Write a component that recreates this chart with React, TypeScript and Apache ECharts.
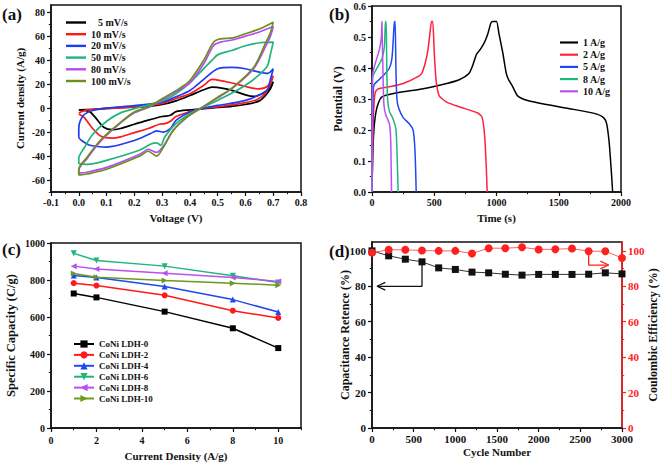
import React, { useEffect, useRef } from "react";
import * as echarts from "echarts";

const FONT = '"Liberation Serif", "Times New Roman", serif';
const INK = "#111111";

// ---------- (a) CV curves ----------
const cvNames = ["5 mV/s", "10 mV/s", "20 mV/s", "50 mV/s", "80 mV/s", "100 mV/s"];
const cvColors = ["#000000", "#ff1a1a", "#1f3cf2", "#20b57a", "#b64cf2", "#6b8e1e"];
const cv5 = [[0,-1.5],[0.05,-1],[0.1,-0.3],[0.15,0.3],[0.2,0.8],[0.25,1.5],[0.3,3],[0.35,6],[0.4,10.5],[0.45,15.3],[0.48,17.5],[0.52,16.5],[0.56,14.2],[0.6,11],[0.63,9.7],[0.66,12],[0.68,15],[0.7,22],[0.69,16],[0.67,10],[0.65,6],[0.6,3],[0.55,1.5],[0.5,0.5],[0.45,-0.5],[0.4,-1.5],[0.35,-3],[0.33,-6],[0.3,-7],[0.25,-10],[0.2,-13.5],[0.15,-17],[0.12,-18],[0.09,-16],[0.06,-8],[0.04,-3],[0.02,-2],[0,-1.5]];
const cv10 = [[0,-4],[0.03,-1.5],[0.1,-0.5],[0.2,1],[0.3,4],[0.35,8],[0.4,12],[0.45,19],[0.48,24],[0.52,22.5],[0.56,20.5],[0.6,18],[0.65,16],[0.68,18.5],[0.7,27],[0.69,20],[0.67,12],[0.64,7],[0.6,4.5],[0.5,1],[0.44,-0.5],[0.4,-3],[0.35,-7],[0.33,-11],[0.31,-13],[0.29,-13.5],[0.25,-17],[0.2,-20.5],[0.15,-24],[0.12,-25],[0.08,-23.5],[0.05,-17],[0.02,-8],[0,-5]];
const cv20 = [[0,-24.7],[0,-17],[0.017,-6],[0.05,-2],[0.1,0],[0.2,2],[0.3,5],[0.35,9.5],[0.4,14.7],[0.45,24],[0.5,32.8],[0.55,34],[0.6,32.8],[0.65,30],[0.68,29],[0.7,32.8],[0.69,24],[0.676,14.7],[0.6,6.4],[0.5,2.2],[0.44,-0.5],[0.4,-3.3],[0.35,-10.3],[0.33,-17],[0.305,-20],[0.28,-19],[0.257,-21.4],[0.2,-27],[0.1,-32.5],[0.04,-31],[0.01,-27],[0,-24.7]];
const cv50 = [[0,-46.4],[0,-42],[0.02,-33],[0.05,-22],[0.1,-11],[0.15,-4],[0.2,-0.5],[0.25,2.5],[0.3,6],[0.35,12],[0.4,21],[0.45,33],[0.48,40],[0.5,44.4],[0.55,48],[0.6,52],[0.65,54.5],[0.7,55],[0.69,45],[0.676,34],[0.6,19],[0.5,6.4],[0.44,0],[0.4,-4.7],[0.35,-13],[0.31,-24],[0.295,-31],[0.28,-29],[0.26,-30],[0.22,-35],[0.1,-43.6],[0.03,-47],[0,-46.4]];
const cv80 = [[0,-54],[0,-52],[0.03,-42],[0.077,-28],[0.137,-15],[0.2,-4],[0.255,1],[0.3,7],[0.36,15],[0.4,21],[0.45,37],[0.485,52],[0.51,55],[0.556,57],[0.6,60],[0.65,63.5],[0.7,68],[0.69,60],[0.676,53],[0.63,33],[0.556,17],[0.5,8.5],[0.44,0],[0.39,-7.5],[0.34,-18.6],[0.305,-31.5],[0.28,-37],[0.25,-34.5],[0.22,-38.5],[0.1,-49.5],[0.03,-53.5],[0,-54]];
const cv100 = [[0,-56],[0,-51],[0.03,-41],[0.077,-27],[0.137,-14.4],[0.2,-3.3],[0.255,1.4],[0.3,7.8],[0.36,16],[0.4,23],[0.45,40],[0.485,55],[0.51,57.8],[0.556,58.6],[0.6,62],[0.65,66],[0.7,71.7],[0.69,63],[0.676,56],[0.63,34],[0.556,17.5],[0.5,9],[0.44,0],[0.39,-7.5],[0.34,-18.6],[0.305,-32.5],[0.28,-40],[0.25,-36],[0.22,-40],[0.1,-51],[0.03,-55],[0,-56]];
const cvData = [cv5, cv10, cv20, cv50, cv80, cv100];
const aXTicks = [-0.1, 0, 0.1, 0.2, 0.3, 0.4, 0.5, 0.6, 0.7, 0.8];
const aXMinor = [-0.05, 0.05, 0.15, 0.25, 0.35, 0.45, 0.55, 0.65, 0.75];
const aYTicks = [-60, -40, -20, 0, 20, 40, 60, 80];
const aYMinor = [-70, -50, -30, -10, 10, 30, 50, 70];

// ---------- (b) GCD curves ----------
const gcdNames = ["1 A/g", "2 A/g", "5 A/g", "8 A/g", "10 A/g"];
const gcdColors = ["#000000", "#ff2040", "#1f48f2", "#20b57a", "#bb50f0"];
const g1 = [[0,0],[5,0.1],[12,0.18],[25,0.24],[45,0.28],[80,0.307],[200,0.32],[400,0.332],[600,0.35],[700,0.362],[780,0.383],[810,0.41],[840,0.445],[870,0.46],[900,0.48],[930,0.51],[955,0.545],[970,0.55],[1000,0.55],[1020,0.51],[1050,0.45],[1080,0.38],[1100,0.36],[1130,0.34],[1170,0.31],[1250,0.295],[1400,0.282],[1600,0.268],[1800,0.252],[1860,0.24],[1885,0.22],[1905,0.16],[1920,0.08],[1933,0]];
const g2 = [[0,0],[5,0.12],[12,0.25],[25,0.32],[45,0.332],[150,0.34],[250,0.35],[350,0.368],[400,0.383],[430,0.42],[450,0.46],[465,0.51],[478,0.55],[488,0.55],[500,0.45],[515,0.36],[540,0.31],[600,0.29],[700,0.275],[850,0.255],[885,0.24],[905,0.18],[918,0.08],[925,0]];
const g5 = [[0,0],[3,0.15],[8,0.3],[15,0.345],[50,0.36],[100,0.38],[140,0.4],[160,0.43],[172,0.5],[180,0.55],[186,0.55],[192,0.4],[200,0.3],[215,0.27],[250,0.24],[300,0.22],[330,0.2],[343,0.15],[350,0.08],[355,0]];
const g8 = [[0,0],[2,0.2],[5,0.37],[40,0.4],[80,0.43],[100,0.47],[108,0.55],[114,0.55],[119,0.4],[125,0.3],[140,0.26],[170,0.235],[193,0.2],[203,0.1],[210,0]];
const g10 = [[0,0],[2,0.3],[5,0.38],[30,0.42],[60,0.46],[75,0.5],[80,0.55],[85,0.55],[90,0.35],[96,0.28],[110,0.25],[140,0.22],[150,0.17],[154,0.08],[157,0]];
const gcdData = [g1, g2, g5, g8, g10];
const bXTicks = [0, 500, 1000, 1500, 2000];
const bXMinor = [250, 750, 1250, 1750];
const bYTicks = [0, 0.1, 0.2, 0.3, 0.4, 0.5, 0.6];
const bYMinor = [0.05, 0.15, 0.25, 0.35, 0.45, 0.55];

// ---------- (c) rate capability ----------
const currentDensity = [1, 2, 5, 8, 10];
const capNames = ["CoNi LDH-0", "CoNi LDH-2", "CoNi LDH-4", "CoNi LDH-6", "CoNi LDH-8", "CoNi LDH-10"];
const capColors = ["#000000", "#ff1a1a", "#1f48f2", "#20b57a", "#bb50f0", "#6b9a1e"];
const capSymbols = ["rect", "circle", "triangle", "triangle", "triangle", "triangle"];
const capRotate = [0, 0, 0, 180, 90, -90];
const cap0 = [727, 706, 629, 539, 432];
const cap2 = [783, 770, 717, 634, 595];
const cap4 = [824, 814, 765, 694, 627];
const cap6 = [944, 905, 875, 823, 787];
const cap8 = [875, 860, 837, 814, 792];
const cap10 = [835, 815, 797, 783, 772];
const capData = [cap0, cap2, cap4, cap6, cap8, cap10];
const cXTicks = [0, 2, 4, 6, 8, 10];
const cXMinor = [1, 3, 5, 7, 9, 11];
const cYTicks = [0, 200, 400, 600, 800, 1000];
const cYMinor = [100, 300, 500, 700, 900];

// ---------- (d) cycling ----------
const cycles = [0, 200, 400, 600, 800, 1000, 1200, 1400, 1600, 1800, 2000, 2200, 2400, 2600, 2800, 3000];
const retention = [100, 97.2, 95.3, 93.8, 90.4, 89.5, 88, 87.6, 86.8, 86.3, 86.7, 86.7, 86.7, 86.8, 87.6, 87];
const coulombic = [99, 100.6, 100.6, 100.2, 100, 100, 98.5, 101.5, 101.5, 102, 100.8, 100.9, 101.3, 99.8, 99.8, 96];
const arrowLeftPath = [[600, 93.8], [600, 80], [60, 80]];
const arrowLeftHead = [[160, 82.2], [60, 80], [160, 77.8]];
const arrowRightPath = [[2600, 100], [2600, 92], [2840, 92]];
const arrowRightHead = [[2740, 94.2], [2840, 92], [2740, 89.8]];
const dXTicks = [0, 500, 1000, 1500, 2000, 2500, 3000];
const dXMinor = [250, 750, 1250, 1750, 2250, 2750];
const dYTicks = [0, 20, 40, 60, 80, 100];
const dYMinor = [10, 30, 50, 70, 90];

type AxisOpt = {
  grid: number;
  position: string;
  min: number;
  max: number;
  ticks: number[];
  minor: number[];
  fmt?: (v: number) => string;
  name?: string;
  nameGap?: number;
  nameSize?: number;
  labelSize?: number;
  margin?: number;
  color?: string;
  vertical?: boolean;
};

function makeAxes(o: AxisOpt) {
  const color = o.color || INK;
  const main: any = {
    type: "value",
    gridIndex: o.grid,
    position: o.position,
    min: o.min,
    max: o.max,
    name: o.name || "",
    nameLocation: "middle",
    nameGap: o.nameGap,
    nameRotate: o.vertical ? 90 : 0,
    nameMoveOverlap: false,
    nameTextStyle: { fontFamily: FONT, fontWeight: "bold", fontSize: o.nameSize || 11, color: INK },
    axisLine: { show: true, onZero: false, lineStyle: { color, width: 1.5 } },
    axisTick: { show: true, inside: false, length: 4, customValues: o.ticks, lineStyle: { color, width: 1.2 } },
    minorTick: { show: false },
    axisLabel: {
      show: true,
      customValues: o.ticks,
      margin: o.margin ?? 6,
      formatter: o.fmt || ((v: number) => String(v)),
      fontFamily: FONT,
      fontWeight: "bold",
      fontSize: o.labelSize || 10,
      color,
    },
    splitLine: { show: false },
  };
  const minor: any = {
    type: "value",
    gridIndex: o.grid,
    position: o.position,
    min: o.min,
    max: o.max,
    axisLine: { show: false, onZero: false },
    axisTick: { show: true, inside: false, length: 2.2, customValues: o.minor, lineStyle: { color, width: 1 } },
    axisLabel: { show: false },
    splitLine: { show: false },
    minorTick: { show: false },
  };
  return [main, minor];
}

const fix1 = (v: number) => v.toFixed(1);
const LINE_ICON = "path://M0,0 H20 V2.4 H0 Z";

export default function App() {
  const ref = useRef<HTMLDivElement>(null);
  useEffect(() => {
    document.body.style.margin = "0";
    if (!ref.current) return;
    const chart = echarts.init(ref.current, undefined, { renderer: "svg" });

    const xAxis = [
      ...makeAxes({ grid: 0, position: "bottom", min: -0.1, max: 0.8, ticks: aXTicks, minor: aXMinor, fmt: fix1, name: "Voltage (V)", nameGap: 20, margin: 5 }),
      ...makeAxes({ grid: 1, position: "bottom", min: 0, max: 2000, ticks: bXTicks, minor: bXMinor, name: "Time (s)", nameGap: 20, margin: 5 }),
      ...makeAxes({ grid: 2, position: "bottom", min: 0, max: 11, ticks: cXTicks, minor: cXMinor, name: "Current Density (A/g)", nameGap: 22, margin: 7 }),
      ...makeAxes({ grid: 3, position: "bottom", min: 0, max: 3000, ticks: dXTicks, minor: dXMinor, name: "Cycle Number", nameGap: 18, margin: 5, labelSize: 11 }),
    ];
    const yAxis = [
      ...makeAxes({ grid: 0, position: "left", min: -70, max: 86, ticks: aYTicks, minor: aYMinor, name: "Current density (A/g)", nameGap: 26, vertical: true }),
      ...makeAxes({ grid: 1, position: "left", min: 0, max: 0.6, ticks: bYTicks, minor: bYMinor, fmt: fix1, name: "Potential (V)", nameGap: 28, nameSize: 12, vertical: true }),
      ...makeAxes({ grid: 2, position: "left", min: 0, max: 1000, ticks: cYTicks, minor: cYMinor, name: "Specific Capacity (C/g)", nameGap: 34, nameSize: 12.5, vertical: true }),
      ...makeAxes({ grid: 3, position: "left", min: 0, max: 105, ticks: dYTicks, minor: dYMinor, name: "Capacitance Retence (%)", nameGap: 21, nameSize: 12, labelSize: 11, vertical: true }),
      ...makeAxes({ grid: 3, position: "right", min: 0, max: 105, ticks: dYTicks, minor: dYMinor, name: "Coulombic Efficiency (%)", nameGap: 25, nameSize: 12, labelSize: 11, vertical: true, color: "#ff2020" }),
    ];

    const series: any[] = [];
    cvNames.forEach((n, i) =>
      series.push({
        name: n, type: "line", xAxisIndex: 0, yAxisIndex: 0, data: cvData[i],
        symbol: "none", showSymbol: false, smooth: 0.3, color: cvColors[i],
        lineStyle: { width: 1.7, color: cvColors[i] },
      })
    );
    gcdNames.forEach((n, i) =>
      series.push({
        name: n, type: "line", xAxisIndex: 2, yAxisIndex: 2, data: gcdData[i],
        symbol: "none", showSymbol: false, smooth: 0.2, color: gcdColors[i],
        lineStyle: { width: 1.5, color: gcdColors[i] },
      })
    );
    capNames.forEach((n, i) =>
      series.push({
        name: n, type: "line", xAxisIndex: 4, yAxisIndex: 4,
        data: currentDensity.map((x, k) => [x, capData[i][k]]),
        symbol: capSymbols[i], symbolRotate: capRotate[i], symbolSize: 6, color: capColors[i],
        itemStyle: { color: capColors[i] }, lineStyle: { width: 1.5, color: capColors[i] },
      })
    );
    series.push({
      name: "Capacitance Retence", type: "line", xAxisIndex: 6, yAxisIndex: 6,
      data: cycles.map((c, k) => [c, retention[k]]), symbol: "rect", symbolSize: 7,
      itemStyle: { color: "#111" }, lineStyle: { width: 1, color: "#333" }, z: 3,
    });
    series.push({
      name: "Coulombic Efficiency", type: "line", xAxisIndex: 6, yAxisIndex: 8,
      data: cycles.map((c, k) => [c, coulombic[k]]), symbol: "circle", symbolSize: 8,
      itemStyle: { color: "#ff2020" }, lineStyle: { width: 1, color: "#ff6060" }, z: 3,
    });
    const arrow = (data: number[][], color: string) => ({
      type: "line", xAxisIndex: 6, yAxisIndex: 6, data, symbol: "none", showSymbol: false,
      silent: true, lineStyle: { width: 1.3, color }, z: 2,
    });
    series.push(arrow(arrowLeftPath, "#111"), arrow(arrowLeftHead, "#111"));
    series.push(arrow(arrowRightPath, "#ff2020"), arrow(arrowRightHead, "#ff2020"));

    const legendText = (size: number) => ({
      fontFamily: FONT, fontWeight: "bold", fontSize: size, color: INK, lineHeight: size,
      rich: { p: { fontFamily: FONT, fontWeight: "bold", fontSize: size, color: INK, padding: [0, 0, 0, 7] } },
    });

    const gridBase = { show: true, borderColor: INK, borderWidth: 1.5, backgroundColor: "transparent", containLabel: false, outerBoundsMode: "none" };

    chart.setOption({
      animation: false,
      backgroundColor: "#ffffff",
      grid: [
        { ...gridBase, left: 51, top: 5, width: 250, height: 187 },
        { ...gridBase, left: 372, top: 6, width: 249, height: 186 },
        { ...gridBase, left: 51, top: 243, width: 250, height: 185 },
        { ...gridBase, left: 372, top: 242, width: 250, height: 186 },
      ],
      xAxis,
      yAxis,
      legend: [
        {
          data: cvNames.map((n) => ({ name: n, icon: LINE_ICON })), orient: "vertical", left: 66, top: 17.5, padding: 0,
          itemWidth: 20, itemHeight: 10, itemGap: 1.7, selectedMode: false,
          textStyle: legendText(10),
          formatter: (n: string) => (n === "5 mV/s" ? "{p|5 mV/s}" : n),
        },
        {
          data: gcdNames.map((n) => ({ name: n, icon: LINE_ICON })), orient: "vertical", left: 560, top: 37.5, padding: 0,
          itemWidth: 18, itemHeight: 10, itemGap: 2.2, selectedMode: false,
          textStyle: legendText(10),
        },
        {
          data: capNames, orient: "vertical", left: 73, top: 339.5, padding: 0,
          itemWidth: 20, itemHeight: 9, itemGap: 1.9, selectedMode: false,
          textStyle: legendText(9),
        },
      ],
      graphic: [
        { type: "text", left: 2, top: 6, style: { text: "(a)", font: `bold 17px ${FONT}`, fill: INK } },
        { type: "text", left: 329, top: 6, style: { text: "(b)", font: `bold 17px ${FONT}`, fill: INK } },
        { type: "text", left: 2, top: 241, style: { text: "(c)", font: `bold 17px ${FONT}`, fill: INK } },
        { type: "text", left: 329, top: 243, style: { text: "(d)", font: `bold 17px ${FONT}`, fill: INK } },
      ],
      series,
    });
    return () => chart.dispose();
  }, []);
  return <div ref={ref} style={{ width: 661, height: 465 }} />;
}
